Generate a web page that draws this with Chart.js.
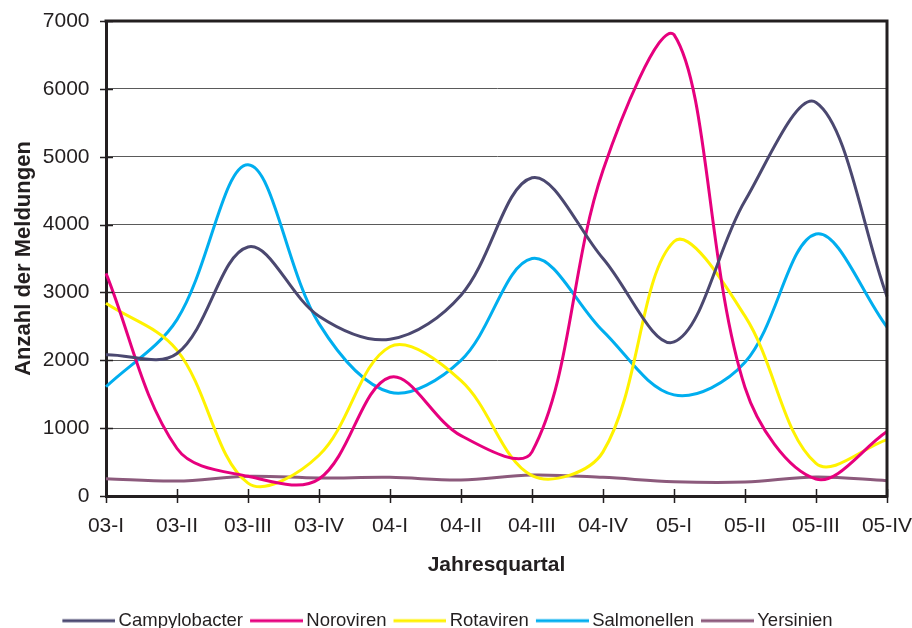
<!DOCTYPE html>
<html>
<head>
<meta charset="utf-8">
<script src="https://cdn.jsdelivr.net/npm/chart.js@4/dist/chart.umd.min.js"></script>
<style>
  html, body { margin: 0; padding: 0; background: #ffffff; }
  canvas { display: block; }
</style>
</head>
<body>
<canvas id="chart" width="912" height="628"></canvas>
<script>
// Quarterly notifications 2003–2005
const quarters = ['03-I', '03-II', '03-III', '03-IV', '04-I', '04-II', '04-III', '04-IV', '05-I', '05-II', '05-III', '05-IV'];
const campylobacter = [2080, 2100, 3670, 2650, 2310, 2960, 4690, 3500, 2270, 4350, 5800, 2940];
const noroviren     = [3280, 700, 290, 250, 1750, 890, 650, 4800, 6800, 1600, 250, 950];
const rotaviren     = [2840, 2150, 190, 600, 2200, 1700, 300, 650, 3750, 2650, 480, 830];
const salmonellen   = [1610, 2600, 4880, 2540, 1530, 2000, 3500, 2430, 1490, 1970, 3860, 2490];
const yersinien     = [255, 220, 290, 265, 275, 235, 310, 275, 210, 205, 280, 225];

const seriesNames  = ['Campylobacter', 'Noroviren', 'Rotaviren', 'Salmonellen', 'Yersinien'];
const seriesValues = [campylobacter, noroviren, rotaviren, salmonellen, yersinien];
const seriesColors = ['#4b4870', '#e6007e', '#fff200', '#00aeef', '#8c5a7c'];

const yMax = 7000;
const yStep = 1000;

const FONT = "'Liberation Sans', Arial, Helvetica, sans-serif";
const INK = '#231f20';
const PAD_LEFT = 8;

// legend key: a short stroke, drawn into a small canvas used as point style
function legendKey(color) {
  const c = document.createElement('canvas');
  c.width = 59; c.height = 6;
  const g = c.getContext('2d');
  g.strokeStyle = color;
  g.lineWidth = 3;
  g.beginPath();
  g.moveTo(6, 3);
  g.lineTo(59, 3);
  g.stroke();
  return c;
}

// tick marks crossing both axes, plus the closing frame on top and right
const axisDecor = {
  id: 'axisDecor',
  afterDraw(chart) {
    const { ctx, chartArea: a, scales } = chart;
    ctx.save();
    ctx.strokeStyle = INK;
    ctx.lineWidth = 1.5;
    ctx.beginPath();
    scales.x.ticks.forEach((t, i) => {
      const px = Math.round(scales.x.getPixelForTick(i)) + 0.5;
      ctx.moveTo(px, a.bottom - 7);
      ctx.lineTo(px, a.bottom + 7);
    });
    scales.y.ticks.forEach((t, i) => {
      const py = Math.round(scales.y.getPixelForTick(i)) + 0.5;
      ctx.moveTo(a.left - 6, py);
      ctx.lineTo(a.left + 7, py);
    });
    ctx.stroke();
    ctx.lineWidth = 3;
    ctx.beginPath();
    ctx.moveTo(a.left - 1.5, a.top);
    ctx.lineTo(a.right, a.top);
    ctx.lineTo(a.right, a.bottom + 1.5);
    ctx.stroke();
    ctx.restore();
  }
};

new Chart(document.getElementById('chart'), {
  type: 'line',
  data: {
    labels: quarters,
    datasets: seriesNames.map((name, i) => ({
      label: name,
      data: seriesValues[i],
      borderColor: seriesColors[i],
      backgroundColor: seriesColors[i],
      borderWidth: 3,
      pointRadius: 0,
      pointHoverRadius: 0,
      pointStyle: legendKey(seriesColors[i]),
      tension: 0.35,
      fill: false
    }))
  },
  options: {
    responsive: false,
    animation: false,
    devicePixelRatio: 1,
    layout: { padding: { left: PAD_LEFT, right: 25, top: 21, bottom: -12 } },
    plugins: {
      tooltip: { enabled: false },
      legend: {
        position: 'bottom',
        labels: {
          usePointStyle: true,
          pointStyleWidth: 47,
          padding: 7,
          color: INK,
          font: { family: FONT, size: 18.5 }
        }
      }
    },
    scales: {
      x: {
        type: 'category',
        offset: false,
        grid: { display: false },
        border: { display: true, color: INK, width: 3 },
        ticks: {
          color: INK,
          padding: 9.5,
          maxRotation: 0,
          autoSkip: false,
          font: { family: FONT, size: 21 }
        },
        title: {
          display: true,
          text: 'Jahresquartal',
          color: INK,
          padding: { top: 0, bottom: 27 },
          font: { family: FONT, size: 21, weight: 'bold' }
        },
        afterFit(scale) {
          scale.paddingLeft = 0;
          scale.paddingRight = 0;
          scale.height = 108.5;
        }
      },
      y: {
        min: 0,
        max: yMax,
        ticks: {
          stepSize: yStep,
          color: INK,
          padding: 16.5,
          font: { family: FONT, size: 21 },
          callback: (v) => String(v)
        },
        grid: { color: '#5a5a5a', lineWidth: 1, drawTicks: false },
        border: { display: true, color: INK, width: 3 },
        title: {
          display: true,
          text: 'Anzahl der Meldungen',
          color: INK,
          padding: { top: 10.5 - PAD_LEFT, bottom: 0 },
          font: { family: FONT, size: 22, weight: 'bold' }
        },
        afterFit(scale) {
          scale.width = 106 - PAD_LEFT;
          scale.paddingTop = 0;
          scale.paddingBottom = 0;
        }
      }
    }
  },
  plugins: [axisDecor]
});
</script>
</body>
</html>
